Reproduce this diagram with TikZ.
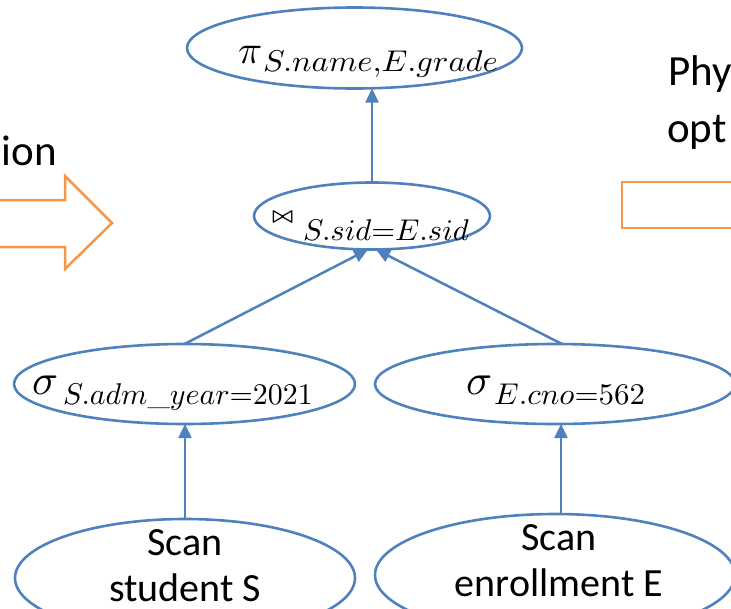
\documentclass[tikz,border=0pt]{standalone}
\usepackage{graphicx}
\usepackage{fontspec}
\newfontfamily\slidefont{Carlito}
\usetikzlibrary{arrows.meta,shapes.geometric}
\definecolor{nodeblue}{RGB}{79,129,189}
\definecolor{arroworange}{RGB}{247,150,70}
% operator symbol, then its subscript set at a fixed offset
% #1 symbol, #2 symbol scale, #3 offset of the subscript, #4 drop, #5 width scale, #6 subscript
\newcommand\oplabel[6]{\rlap{\scalebox{#2}{#1}}\hspace*{#3}%
  \raisebox{-#4}{\scalebox{#5}[3.0]{$#6$}}}
\begin{document}
\begin{tikzpicture}[x=1pt,y=-1pt,
  opshape/.style={ellipse,draw=nodeblue,line width=2.6pt,inner sep=0pt,outer sep=0pt},
  flow/.style={draw=nodeblue,line width=2.5pt,-{Triangle[width=13pt,length=14pt]}},
  blockarrow/.style={draw=arroworange,line width=2.5pt,line join=miter},
  slidetext/.style={font=\slidefont\fontsize{43}{50}\selectfont,inner sep=0pt},
  scantext/.style={font=\slidefont\fontsize{40}{46}\selectfont,inner sep=0pt,align=center},
  optext/.style={inner sep=0pt,anchor=base west}]
\useasboundingbox (0,0) rectangle (731,608);
\clip (0,0) rectangle (731,608);

% operator ellipses
\node[opshape,minimum width=335pt,minimum height=81pt] (proj) at (354.5,48) {};
\node[opshape,minimum width=236pt,minimum height=67pt] (join) at (372,216) {};
\node[opshape,minimum width=341pt,minimum height=80pt] (selS) at (184.5,384) {};
\node[opshape,minimum width=360pt,minimum height=80pt] (selE) at (555,384) {};
\node[opshape,minimum width=340pt,minimum height=118pt] (scanS) at (185,578) {};
\node[opshape,minimum width=360pt,minimum height=122pt] (scanE) at (555,575) {};

% operator labels
\node[optext] (projlbl) at (238,63) {\oplabel{$\pi$}{4}{25pt}{8pt}{3.25}{S.name{,}E.grade}};
\node[optext] (joinlbl) at (272,240) {\oplabel{\raisebox{8pt}{\boldmath$\bowtie$}}{2.2}{31pt}{0pt}{3.06}{S.sid{=}E.sid}};
\node[optext] (selSlbl) at (32,394) {\oplabel{$\sigma$}{4.3}{31pt}{10pt}{2.99}{S.adm\_year{=}\mathrm{2021}}};
\node[optext] (selElbl) at (466,394) {\oplabel{$\sigma$}{4.3}{28pt}{10pt}{3.1}{E.cno{=}\mathrm{562}}};

\node[scantext] (scanSlbl) at (185,566) {Scan\\student S};
\node[scantext] (scanElbl) at (559,561) {Scan\\enrollment E};

% data flow, bottom to top
\draw[flow] (join.north) -- (join.north |- proj.south);
\draw[flow] (selS.north) -- ([xshift=-4pt]join.south);
\draw[flow] ([xshift=7pt]selE.north) -- ([xshift=4pt]join.south);
\draw[flow] (scanS.north) -- (scanS.north |- selS.south);
\draw[flow] ([xshift=6pt]scanE.north) -- ([xshift=6pt]selE.south);

% orange block arrows between the plan stages
\draw[blockarrow] (-10,200) -- (65,200) -- (65,176) -- (112,223) -- (65,269) -- (65,247) -- (-10,247) -- cycle;
\draw[blockarrow] (750,228) -- (622,228) -- (622,182) -- (750,182);

\node[slidetext,anchor=base east] (logtext) at (57,165) {ion};
\node[slidetext,anchor=base west] (phystext1) at (668,85) {Phy};
\node[slidetext,anchor=base west] (phystext2) at (667,142) {opt};
\end{tikzpicture}
\end{document}
